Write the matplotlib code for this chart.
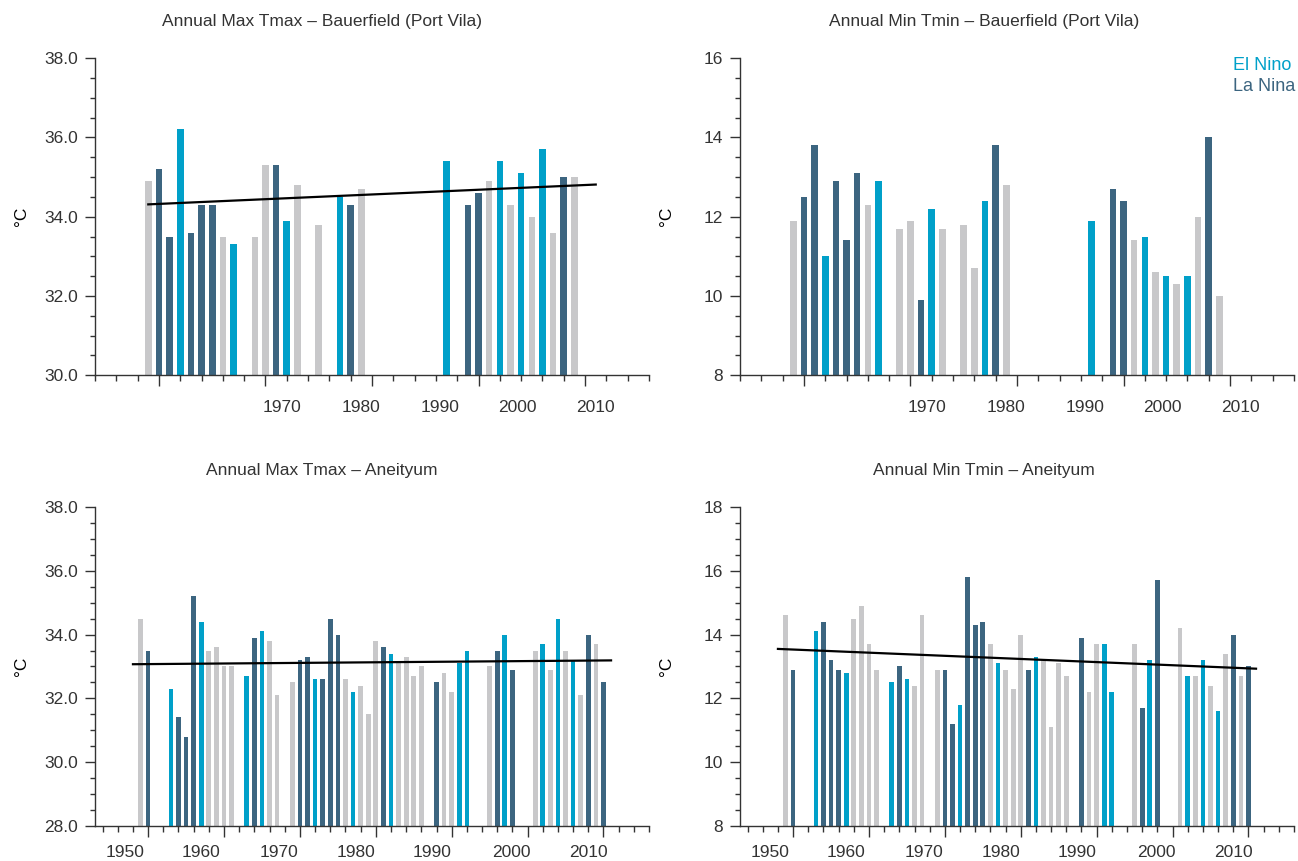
import numpy as np
import matplotlib.pyplot as plt
from matplotlib.ticker import MultipleLocator, FormatStrFormatter

plt.rcParams['font.family'] = ['Liberation Sans', 'DejaVu Sans']
plt.rcParams['text.color'] = '#333333'

# ENSO phase colours: n = neutral, e = El Nino, l = La Nina
colours = {'n': '#c8c8ca', 'e': '#00a0c9', 'l': '#3c6580'}

# Bauerfield (Port Vila) - annual max Tmax
pv_max_years = [1969, 1970, 1971, 1972, 1973, 1974, 1975, 1976, 1977, 1979,
                1980, 1981, 1982, 1983, 1985, 1987, 1988, 1989, 1997, 1999,
                2000, 2001, 2002, 2003, 2004, 2005, 2006, 2007, 2008, 2009]
pv_max_values = [34.9, 35.2, 33.5, 36.2, 33.6, 34.3, 34.3, 33.5, 33.3, 33.5,
                 35.3, 35.3, 33.9, 34.8, 33.8, 34.5, 34.3, 34.7, 35.4, 34.3,
                 34.6, 34.9, 35.4, 34.3, 35.1, 34.0, 35.7, 33.6, 35.0, 35.0]
pv_max_enso = ['n', 'l', 'l', 'e', 'l', 'l', 'l', 'n', 'e', 'n',
               'n', 'l', 'e', 'n', 'n', 'e', 'l', 'n', 'e', 'l',
               'l', 'n', 'e', 'n', 'e', 'n', 'e', 'n', 'l', 'n']
pv_max_trend_years = [1969, 2011]
pv_max_trend = [34.31, 34.81]

# Bauerfield (Port Vila) - annual min Tmin
pv_min_years = [1969, 1970, 1971, 1972, 1973, 1974, 1975, 1976, 1977, 1979,
                1980, 1981, 1982, 1983, 1985, 1986, 1987, 1988, 1989, 1997,
                1999, 2000, 2001, 2002, 2003, 2004, 2005, 2006, 2007, 2008, 2009]
pv_min_values = [11.9, 12.5, 13.8, 11.0, 12.9, 11.4, 13.1, 12.3, 12.9, 11.7,
                 11.9, 9.9, 12.2, 11.7, 11.8, 10.7, 12.4, 13.8, 12.8, 11.9,
                 12.7, 12.4, 11.4, 11.5, 10.6, 10.5, 10.3, 10.5, 12.0, 14.0, 10.0]
pv_min_enso = ['n', 'l', 'l', 'e', 'l', 'l', 'l', 'n', 'e', 'n',
               'n', 'l', 'e', 'n', 'n', 'n', 'e', 'l', 'n', 'e',
               'l', 'l', 'n', 'e', 'n', 'e', 'n', 'e', 'n', 'l', 'n']

# Aneityum - same years for both series
an_years = [1949, 1950, 1953, 1954, 1955, 1956, 1957, 1958, 1959, 1960,
            1961, 1963, 1964, 1965, 1966, 1967, 1969, 1970, 1971, 1972,
            1973, 1974, 1975, 1976, 1977, 1978, 1979, 1980, 1981, 1982,
            1983, 1984, 1985, 1986, 1988, 1989, 1990, 1991, 1992, 1995,
            1996, 1997, 1998, 2001, 2002, 2003, 2004, 2005, 2006, 2007,
            2008, 2009, 2010]
an_enso = ['n', 'l', 'e', 'l', 'l', 'l', 'e', 'n', 'n', 'n',
           'n', 'e', 'l', 'e', 'n', 'n', 'n', 'l', 'l', 'e',
           'l', 'l', 'l', 'n', 'e', 'n', 'n', 'n', 'l', 'e',
           'n', 'n', 'n', 'n', 'l', 'n', 'n', 'e', 'e', 'n',
           'l', 'e', 'l', 'n', 'e', 'n', 'e', 'n', 'e', 'n',
           'l', 'n', 'l']
an_max_values = [34.5, 33.5, 32.3, 31.4, 30.8, 35.2, 34.4, 33.5, 33.6, 33.0,
                 33.0, 32.7, 33.9, 34.1, 33.8, 32.1, 32.5, 33.2, 33.3, 32.6,
                 32.6, 34.5, 34.0, 32.6, 32.2, 32.4, 31.5, 33.8, 33.6, 33.4,
                 33.1, 33.3, 32.7, 33.0, 32.5, 32.8, 32.2, 33.1, 33.5, 33.0,
                 33.5, 34.0, 32.9, 33.5, 33.7, 32.9, 34.5, 33.5, 33.2, 32.1,
                 34.0, 33.7, 32.5]
an_min_values = [14.6, 12.9, 14.1, 14.4, 13.2, 12.9, 12.8, 14.5, 14.9, 13.7,
                 12.9, 12.5, 13.0, 12.6, 12.4, 14.6, 12.9, 12.9, 11.2, 11.8,
                 15.8, 14.3, 14.4, 13.7, 13.1, 12.9, 12.3, 14.0, 12.9, 13.3,
                 13.2, 11.1, 13.1, 12.7, 13.9, 12.2, 13.7, 13.7, 12.2, 13.7,
                 11.7, 13.2, 15.7, 14.2, 12.7, 12.7, 13.2, 12.4, 11.6, 13.4,
                 14.0, 12.7, 13.0]
an_trend_years = [1948, 2011]
an_max_trend = [33.07, 33.19]
an_min_trend = [13.55, 12.93]

decade_labels = ['1950', '1960', '1970', '1980', '1990', '2000', '2010']

fig = plt.figure(figsize=(12.98, 8.61), dpi=100)


def panel(rect, years, values, enso, xlim, ylim, yfmt, title, title_x,
          labels, label_pos, label_dy, trend_x=None, trend_y=None):
    ax = fig.add_axes(rect)
    ax.bar(years, values, width=0.62, color=[colours[c] for c in enso], zorder=2)
    if trend_x is not None:
        ax.plot(trend_x, trend_y, color='black', lw=1.6, zorder=3)
    for s in ['top', 'right']:
        ax.spines[s].set_visible(False)
    for s in ['left', 'bottom']:
        ax.spines[s].set_color('#333333')
        ax.spines[s].set_linewidth(1.0)
    ax.set_xticks([d for d in range(1950, 2020, 10) if xlim[0] <= d <= xlim[1]])
    ax.xaxis.set_minor_locator(MultipleLocator(2))
    ax.yaxis.set_major_locator(MultipleLocator(2))
    ax.yaxis.set_minor_locator(MultipleLocator(0.5))
    ax.yaxis.set_major_formatter(FormatStrFormatter(yfmt))
    ax.set_xlim(*xlim)
    ax.set_ylim(*ylim)
    ax.tick_params(axis='x', which='major', length=8, width=1, color='#333333',
                   labelbottom=False)
    ax.tick_params(axis='x', which='minor', length=4.5, width=1, color='#333333')
    ax.tick_params(axis='y', which='major', length=7.5, width=1, color='#333333',
                   labelsize=12.5, labelcolor='#333333', pad=5)
    ax.tick_params(axis='y', which='minor', length=3.6, width=1, color='#333333')
    ax.set_ylabel('°C', fontsize=12.5)
    ax.yaxis.set_label_coords(-0.12, 0.5)
    ax.annotate(title, xy=(title_x, 1), xycoords='axes fraction',
                xytext=(0, 26.5), textcoords='offset points',
                ha='center', va='center', fontsize=12.5)
    # year labels as they sit in the original layout
    for lab, xp in zip(labels, label_pos):
        ax.annotate(lab, xy=(xp, 0), xycoords='axes fraction',
                    xytext=(0, -label_dy), textcoords='offset points',
                    ha='center', va='center', fontsize=12.5)
    return ax


top_pos = [0.337, 0.481, 0.622, 0.763, 0.904]
bot_pos = [0.055, 0.191, 0.333, 0.471, 0.609, 0.752, 0.891]

panel([0.0732, 0.5641, 0.4268, 0.3685], pv_max_years, pv_max_values, pv_max_enso,
      (1964, 2016), (30, 38), '%.1f', 'Annual Max Tmax – Bauerfield (Port Vila)', 0.41,
      decade_labels[2:], top_pos, 23, pv_max_trend_years, pv_max_trend)

ax_tr = panel([0.5701, 0.5641, 0.4268, 0.3685], pv_min_years, pv_min_values, pv_min_enso,
              (1964, 2016), (8, 16), '%d', 'Annual Min Tmin – Bauerfield (Port Vila)', 0.44,
              decade_labels[2:], top_pos, 23)
ax_tr.text(0.89, 0.978, 'El Nino', transform=ax_tr.transAxes, color=colours['e'],
           fontsize=13, ha='left', va='center')
ax_tr.text(0.89, 0.909, 'La Nina', transform=ax_tr.transAxes, color=colours['l'],
           fontsize=13, ha='left', va='center')

panel([0.0732, 0.0407, 0.4268, 0.3705], an_years, an_max_values, an_enso,
      (1943, 2016), (28, 38), '%.1f', 'Annual Max Tmax – Aneityum', 0.41,
      decade_labels, bot_pos, 19, an_trend_years, an_max_trend)

panel([0.5701, 0.0407, 0.4268, 0.3705], an_years, an_min_values, an_enso,
      (1943, 2016), (8, 18), '%d', 'Annual Min Tmin – Aneityum', 0.44,
      decade_labels, bot_pos, 19, an_trend_years, an_min_trend)

fig.savefig('out.png', dpi=100, facecolor='white')
